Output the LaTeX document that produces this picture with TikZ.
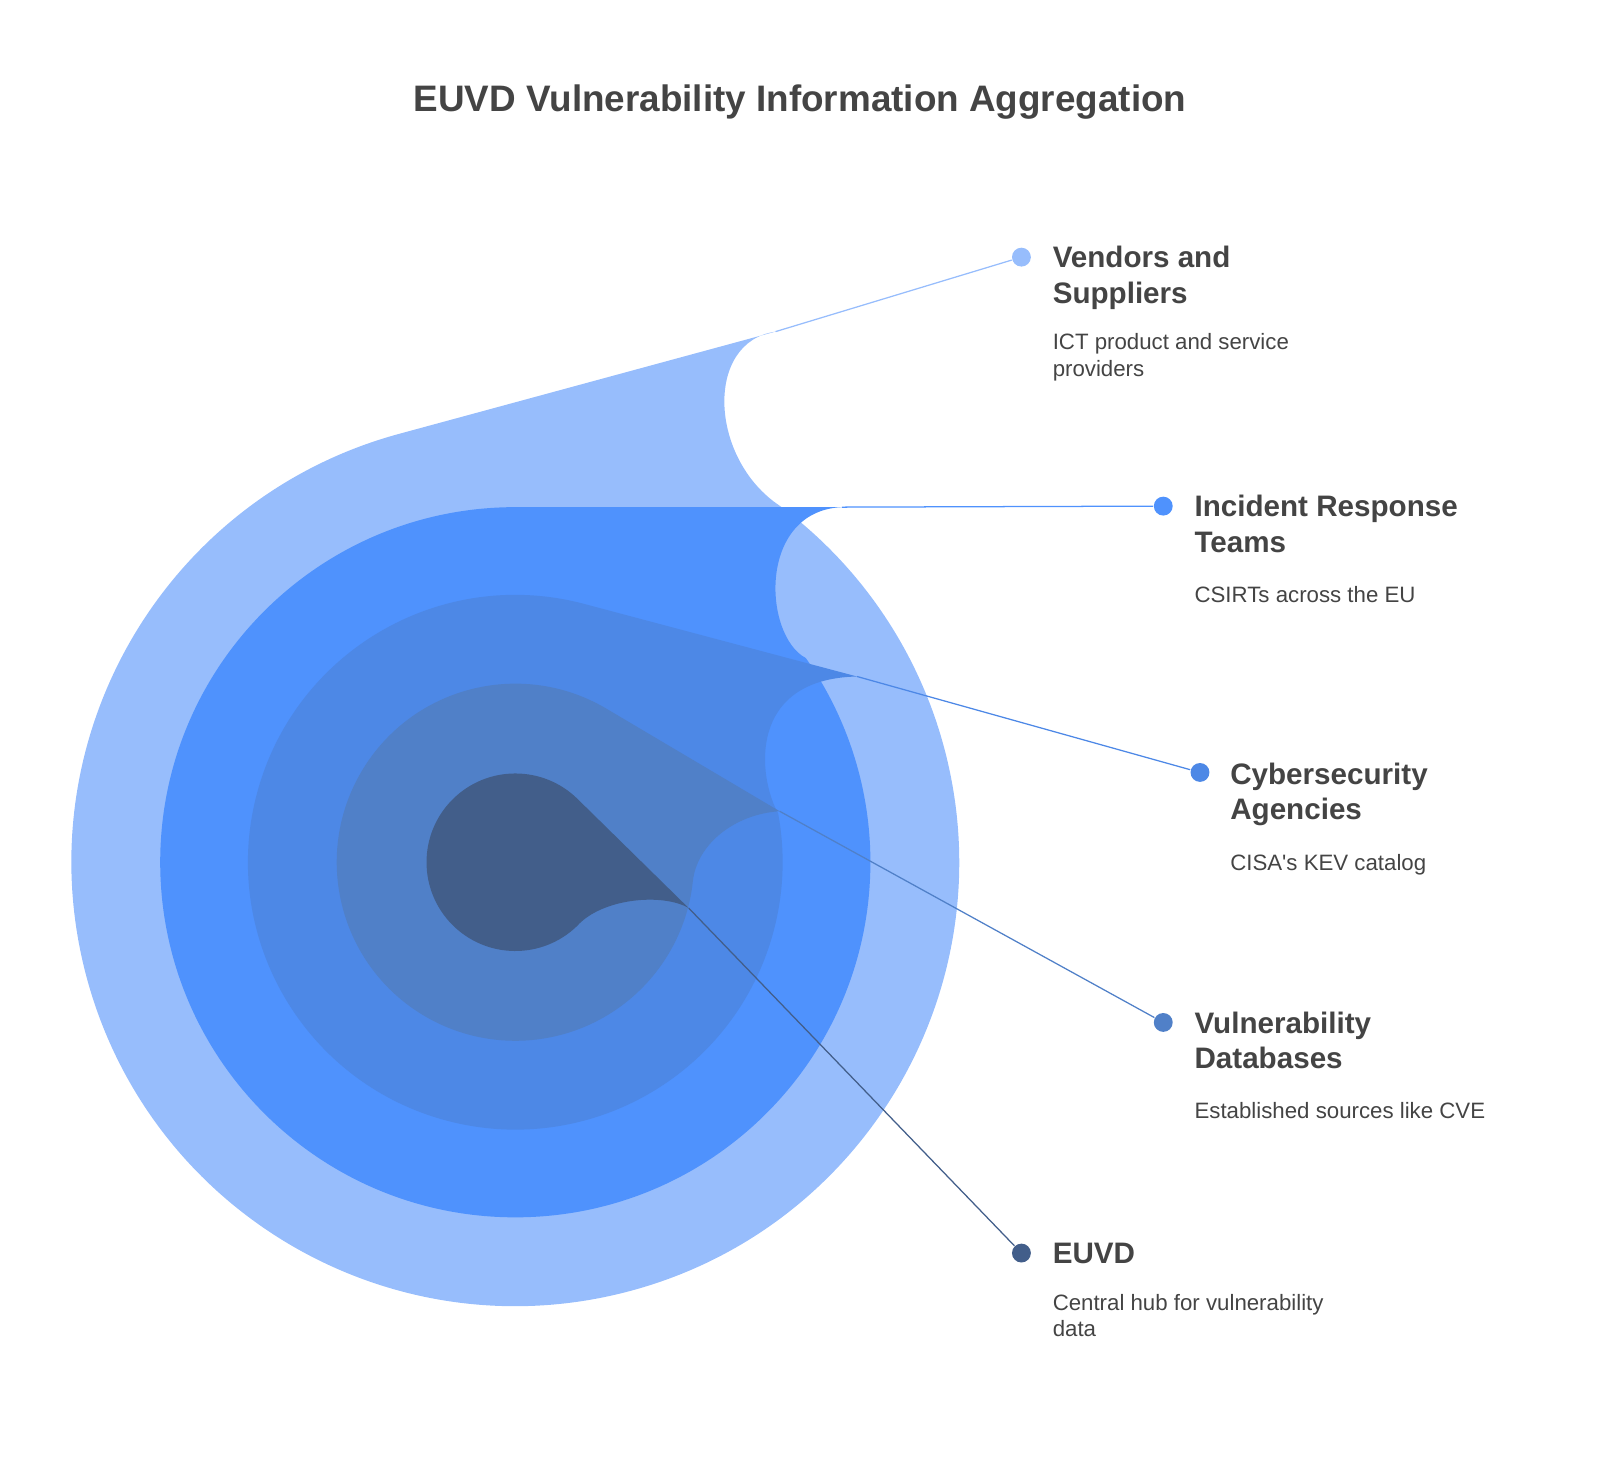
\documentclass[tikz,border=0pt]{standalone}
\usepackage{fontspec}
\setmainfont{Liberation Sans}[Ligatures=TeXOff]
\usetikzlibrary{calc}
\definecolor{layA}{HTML}{97BDFC}
\definecolor{layB}{HTML}{4F92FD}
\definecolor{layC}{HTML}{4D88E6}
\definecolor{layD}{HTML}{5080C8}
\definecolor{layE}{HTML}{425E8A}
\definecolor{ink}{HTML}{444444}
\tikzset{
  dot/.style={circle, inner sep=0pt, minimum size=0.185cm},
  lead/.style={line width=0.35pt},
  head/.style={anchor=base west, align=left, inner sep=0pt, text=ink, font=\bfseries\fontsize{8.25}{9.96}\selectfont},
  desc/.style={anchor=base west, align=left, inner sep=0pt, text=ink, font=\fontsize{6.2}{7.4}\selectfont},
}
\begin{document}
\begin{tikzpicture}[x=0.01cm, y=0.01cm]
\useasboundingbox (0,0) rectangle (1568,1435);
 \node[anchor=base, text=ink, font=\bfseries\fontsize{10.27}{12}\selectfont] (title) at (784,1326) {EUVD Vulnerability Information Aggregation};
 \coordinate (c) at (505,590);
 \coordinate (t1) at (760,1110);
 \coordinate (t2) at (825,938);
 \coordinate (t3) at (840,772);
 \coordinate (t4) at (764,640);
 \coordinate (t5) at (675,545);
 % layers, outside in
 \fill[layA] (t1) -- ($(c)+(105.2:435)$) arc[start angle=105.2, end angle=413.4, radius=435]
   .. controls (695,985) and (690,1100) .. (t1);
 \fill[layB] (t2) -- ($(c)+(90:348)$) arc[start angle=90, end angle=395.1, radius=348]
   .. controls (748,812) and (742,934) .. (t2);
 \fill[layC] (t3) -- ($(c)+(75.1:262)$) arc[start angle=75.1, end angle=370.5, radius=262]
   .. controls (742,675) and (733,770) .. (t3);
 \fill[layD] (t4) -- ($(c)+(59.6:175)$) arc[start angle=59.6, end angle=354, radius=175]
   .. controls (683,607) and (719,637) .. (t4);
 \fill[layE] (t5) -- ($(c)+(45:87)$) arc[start angle=45, end angle=314, radius=87]
   .. controls (590,555) and (650,560) .. (t5);
 \node[dot, fill=layA] (vendD) at (1001,1183) {};
 \node[dot, fill=layB] (irtD) at (1140,939) {};
 \node[dot, fill=layC] (agenD) at (1176,678) {};
 \node[dot, fill=layD] (vdbD) at (1140,433) {};
 \node[dot, fill=layE] (euvdD) at (1001,207) {};
 \draw[lead, layA] (t1) -- (vendD);
 \draw[lead, layB] (t2) -- (irtD);
 \draw[lead, layC] (t3) -- (agenD);
 \draw[lead, layD] (t4) -- (vdbD);
 \draw[lead, layE] (t5) -- (euvdD);
 \node[head] (vendH) at (1031,1137.5) {Vendors and\\Suppliers};
 \node[desc] (vendT) at (1031,1066.1) {ICT product and service\\providers};
 \node[head] (irtH) at (1170,893.5) {Incident Response\\Teams};
 \node[desc] (irtT) at (1170,844.2) {CSIRTs across the EU};
 \node[head] (agenH) at (1205,631.5) {Cybersecurity\\Agencies};
 \node[desc] (agenT) at (1205,582.2) {CISA's KEV catalog};
 \node[head] (vdbH) at (1170,387.5) {Vulnerability\\Databases};
 \node[desc] (vdbT) at (1170,339.2) {Established sources like CVE};
 \node[head] (euvdH) at (1031,196.6) {EUVD};
 \node[desc] (euvdT) at (1031,125.1) {Central hub for vulnerability\\data};
\end{tikzpicture}
\end{document}
